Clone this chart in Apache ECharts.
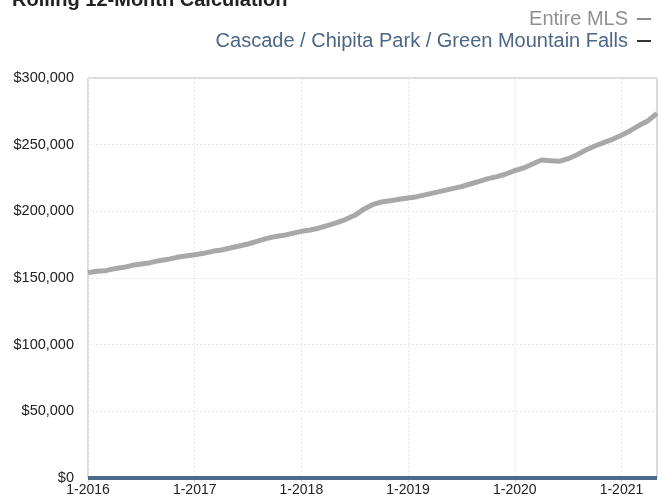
<!DOCTYPE html>
<html>
<head>
<meta charset="utf-8">
<style>
  html, body { margin: 0; padding: 0; background: #fff; }
  #chart { width: 666px; height: 503px; }
</style>
<script src="https://cdn.jsdelivr.net/npm/echarts@6/dist/echarts.min.js"></script>
</head>
<body>
<div id="chart"></div>
<script>
// Monthly points, Jan 2016 through May 2021
const months = [
  '1-2016','2-2016','3-2016','4-2016','5-2016','6-2016','7-2016','8-2016','9-2016','10-2016','11-2016','12-2016',
  '1-2017','2-2017','3-2017','4-2017','5-2017','6-2017','7-2017','8-2017','9-2017','10-2017','11-2017','12-2017',
  '1-2018','2-2018','3-2018','4-2018','5-2018','6-2018','7-2018','8-2018','9-2018','10-2018','11-2018','12-2018',
  '1-2019','2-2019','3-2019','4-2019','5-2019','6-2019','7-2019','8-2019','9-2019','10-2019','11-2019','12-2019',
  '1-2020','2-2020','3-2020','4-2020','5-2020','6-2020','7-2020','8-2020','9-2020','10-2020','11-2020','12-2020',
  '1-2021','2-2021','3-2021','4-2021','5-2021'
];

// Rolling 12-month average price, whole MLS
const entireMLS = [
  154000,155000,155500,157000,158000,159500,160500,161500,163000,164000,165500,166500,
  167500,168500,170000,171000,172500,174000,175500,177500,179500,181000,182000,183500,
  185000,186000,187500,189500,191500,194000,197000,201500,205000,207000,208000,209000,
  210000,211000,212500,214000,215500,217000,218500,220500,222500,224500,226000,228000,
  230500,232500,235500,238500,238000,237500,239500,242500,246000,249000,251500,254000,
  257000,260500,264500,268000,273500
];

// Local area: no sales recorded in the window
const cascadeArea = [
  0,0,0,0,0,0,0,0,0,0,0,0,
  0,0,0,0,0,0,0,0,0,0,0,0,
  0,0,0,0,0,0,0,0,0,0,0,0,
  0,0,0,0,0,0,0,0,0,0,0,0,
  0,0,0,0,0,0,0,0,0,0,0,0,
  0,0,0,0,0
];

const yTicks = { min: 0, max: 300000, step: 50000 };

const seriesNames = ['Entire MLS', 'Cascade / Chipita Park / Green Mountain Falls'];

const FONT = '"Liberation Sans", Arial, Helvetica, sans-serif';
const isJanuary = (i) => i % 12 === 0;

function money(v) {
  return '$' + String(v).replace(/\B(?=(\d{3})+(?!\d))/g, ',');
}

const chart = echarts.init(document.getElementById('chart'), null, { renderer: 'canvas' });

chart.setOption({
  animation: false,
  backgroundColor: '#ffffff',
  title: {
    text: 'Rolling 12-Month Calculation',
    left: 12,
    top: -10,
    padding: 0,
    textStyle: { fontFamily: FONT, fontSize: 20, fontWeight: 'bold', color: '#222' }
  },
  legend: {
    orient: 'vertical',
    right: 15,
    top: 9,
    align: 'right',
    itemGap: 2,
    itemWidth: 14,
    itemHeight: 2,
    icon: 'rect',
    padding: 0,
    textStyle: { fontFamily: FONT, fontSize: 20, padding: [0, 4, 0, 0] },
    data: [
      { name: seriesNames[0], itemStyle: { color: '#8c8c8c' }, textStyle: { color: '#8f8f8f' } },
      { name: seriesNames[1], itemStyle: { color: '#333333' }, textStyle: { color: '#4d6686' } }
    ]
  },
  grid: {
    left: 88,
    right: 9,
    top: 78,
    bottom: 25,
    show: true,
    borderColor: '#b5b5b5',
    borderWidth: 1,
    containLabel: false
  },
  xAxis: {
    type: 'category',
    data: months,
    boundaryGap: false,
    axisLine: { show: false },
    axisTick: {
      show: true,
      interval: (i) => isJanuary(i),
      length: 4,
      inside: false,
      lineStyle: { color: '#cfcfcf' }
    },
    axisLabel: {
      interval: (i) => isJanuary(i),
      margin: 5,
      fontFamily: FONT,
      fontSize: 14,
      color: '#222'
    },
    splitLine: {
      show: true,
      interval: (i) => isJanuary(i),
      lineStyle: { color: '#e8e8e8', type: [2, 2] }
    }
  },
  yAxis: {
    type: 'value',
    min: yTicks.min,
    max: yTicks.max,
    interval: yTicks.step,
    axisLine: { show: false },
    axisTick: { show: false },
    axisLabel: {
      margin: 14,
      fontFamily: FONT,
      fontSize: 14.5,
      color: '#222',
      formatter: money
    },
    splitLine: { lineStyle: { color: '#e6e6e6', type: [2, 2] } }
  },
  series: [
    {
      name: seriesNames[0],
      type: 'line',
      data: entireMLS,
      showSymbol: false,
      symbol: 'none',
      lineStyle: { color: '#a8a8a8', width: 5 },
      itemStyle: { color: '#a8a8a8' },
      z: 3
    },
    {
      name: seriesNames[1],
      type: 'line',
      data: cascadeArea,
      showSymbol: false,
      symbol: 'none',
      clip: false,
      lineStyle: { color: '#4b6a8e', width: 4 },
      itemStyle: { color: '#4b6a8e' },
      z: 4
    }
  ]
});
</script>
</body>
</html>
